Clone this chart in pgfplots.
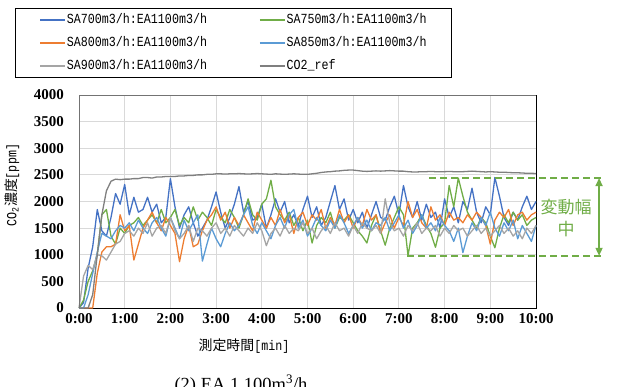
\documentclass[border=0pt]{standalone}
\usepackage{fontspec}
\usepackage{pgfplots}
\usepackage{pgfplotstable}
\pgfplotsset{compat=1.18}
\usetikzlibrary{arrows.meta}
\setmainfont{Liberation Serif}
\newfontfamily\jp{Noto Sans CJK JP}
\newfontfamily\mono[FakeStretch=0.84]{Liberation Mono}
\newcommand\legfont{\mono\fontsize{13.9bp}{16bp}\selectfont}
\definecolor{c700}{HTML}{4472C4}
\definecolor{c750}{HTML}{70AD47}
\definecolor{c800}{HTML}{ED7D31}
\definecolor{c850}{HTML}{5B9BD5}
\definecolor{c900}{HTML}{A5A5A5}
\definecolor{cref}{HTML}{7F7F7F}
\definecolor{gridgray}{HTML}{D9D9D9}
\definecolor{annot}{HTML}{70AD47}
\pgfplotstableread{
t a b c d e r
0.0 0 0 0 0 0 0
0.1 100 150 0 0 600 0
0.2 750 500 0 250 800 0
0.3 1150 700 0 650 720 250
0.4 1850 1000 650 1050 1000 1000
0.5 1450 1750 1050 1400 980 1750
0.6 1350 1850 1150 1350 900 2200
0.7 1700 1350 1150 1300 1050 2380
0.8 2150 1200 1200 1450 1200 2420
0.9 1950 1500 1750 1550 1250 2410
1.0 2320 1400 1450 1500 1400 2420
1.1 1750 1550 1550 1600 1450 2420
1.2 2080 1600 900 1450 1350 2430
1.3 1800 1700 1200 1650 1500 2430
1.4 1850 1550 1500 1500 1400 2450
1.5 2080 1650 1650 1400 1600 2450
1.6 1800 1750 1800 1600 1350 2440
1.7 1950 1600 1600 1700 1500 2460
1.8 1600 1850 1450 1500 1550 2460
1.9 1700 1600 1700 1350 1400 2470
2.0 2430 1700 1550 1700 1700 2470
2.1 1900 1850 1400 1500 1450 2470
2.2 1500 1550 870 1300 1300 2480
2.3 1750 1700 1300 1650 1400 2480
2.4 1900 1600 1550 1450 1550 2490
2.5 1600 1900 1150 1600 1250 2490
2.6 1350 1650 1200 1750 1500 2500
2.7 1500 1800 1450 880 1450 2500
2.8 1650 1700 1650 1200 1350 2510
2.9 1900 1550 1750 1500 1500 2510
3.0 2180 1850 1900 1300 1600 2520
3.1 1800 1700 1650 1150 1400 2520
3.2 1500 1600 1800 1400 1500 2515
3.3 1700 1850 1500 1600 1350 2520
3.4 1950 1700 1700 1450 1550 2520
3.5 2280 1500 1550 1550 1450 2525
3.6 1800 1750 1750 1750 1350 2520
3.7 2000 2050 1600 1900 1500 2515
3.8 1650 1750 1450 1550 1400 2520
3.9 1700 1650 1800 1400 1600 2525
4.0 1950 1950 1650 1600 1450 2520
4.1 1500 2050 1500 1450 1170 2515
4.2 1750 2400 1700 1300 1400 2510
4.3 2050 1900 1550 1550 1500 2520
4.4 1800 1750 1850 1700 1350 2515
4.5 2000 1650 1600 1500 1550 2510
4.6 1600 1800 1750 1750 1400 2515
4.7 1750 1550 1400 1850 1500 2520
4.8 1550 1700 1700 1500 1450 2515
4.9 1850 1450 1800 1650 1600 2510
5.0 2100 1650 1550 1350 1400 2510
5.1 1700 1220 1750 1500 1500 2520
5.2 1900 1550 1650 1700 1300 2530
5.3 1550 1700 1850 1550 1450 2545
5.4 1700 1600 1500 1450 1550 2555
5.5 2000 1800 1700 1650 1400 2560
5.6 2300 1500 1550 1500 1600 2570
5.7 1850 1700 1850 1750 1450 2575
5.8 2050 1650 1600 1600 1500 2585
5.9 1650 1750 1750 1400 1350 2590
6.0 1850 1600 1500 1550 1550 2590
6.1 1600 1450 1700 1700 1400 2580
6.2 1800 1350 1550 1500 1600 2570
6.3 1500 1220 1850 1650 1500 2565
6.4 1750 1550 1650 1450 1450 2570
6.5 2000 1750 1750 1600 1550 2575
6.6 1700 1450 1400 1550 1400 2570
6.7 1650 1180 1600 1700 2050 2575
6.8 1900 1500 1750 1450 1600 2580
6.9 2100 1700 1500 1600 1450 2575
7.0 1750 1900 1700 1750 1500 2570
7.1 2300 1750 1550 1500 1350 2570
7.2 1900 980 2000 1650 1550 2560
7.3 1700 1500 1700 1400 1450 2555
7.4 2000 1600 1850 1550 1600 2555
7.5 1650 1750 1600 1750 1400 2560
7.6 1950 1550 1500 1500 1500 2560
7.7 1700 1400 1900 1600 1450 2565
7.8 1800 1140 1650 1450 1550 2560
7.9 1500 1500 1750 1700 1350 2560
8.0 2050 1600 1550 1550 1500 2560
8.1 1700 2300 1800 1450 1400 2565
8.2 1900 1900 1650 1250 1550 2560
8.3 1600 2440 1700 1500 1450 2560
8.4 2000 2100 1600 1040 1500 2560
8.5 1850 1800 1750 1350 1350 2565
8.6 2250 1650 1650 1600 1450 2570
8.7 1800 1500 1800 1450 1550 2565
8.8 1600 1700 1700 1700 1400 2560
8.9 1900 1600 1550 1550 1500 2555
9.0 1750 1350 1200 1800 1350 2560
9.1 2450 1130 1650 1500 1450 2555
9.2 2100 1500 1800 1350 1550 2550
9.3 1700 1750 1700 1600 1400 2550
9.4 1550 1600 1850 1450 1500 2545
9.5 1800 1800 1550 1650 1350 2540
9.6 1650 1650 1750 1300 1450 2540
9.7 1900 1750 1800 1550 1300 2535
9.8 2100 1550 1650 1400 1500 2530
9.9 1850 1650 1750 1250 1400 2530
10.0 2000 1700 1800 1550 1550 2525
}\data
\begin{document}
\begin{tikzpicture}
\useasboundingbox (0bp,0bp) rectangle (621bp,387bp);
\begin{axis}[
  at={(79bp,79bp)}, anchor=south west,
  scale only axis, width=457bp, height=213bp,
  xmin=0, xmax=10, ymin=0, ymax=4000,
  xtick={0,1,...,10},
  xticklabels={0:00,1:00,2:00,3:00,4:00,5:00,6:00,7:00,8:00,9:00,10:00},
  ytick={0,500,...,4000},
  grid=major, major grid style={draw=gridgray, line width=0.9bp},
  major tick length=0pt,
  axis line style={draw=black, line width=1bp},
  tick label style={font=\fontsize{15bp}{17bp}\selectfont\bfseries},
  /pgf/number format/assume math mode=true,
  /pgf/number format/1000 sep={},
  yticklabel style={inner sep=0pt, xshift=-15bp},
  xticklabel style={inner sep=0pt, yshift=-5bp},
  xlabel={{\jp 測定時間}{\mono [min]}},
  ylabel={{\mono CO\textsubscript{2}}{\jp 濃度}{\mono [ppm]}},
  label style={font=\fontsize{13.9bp}{16bp}\selectfont},
  xlabel style={at={(rel axis cs:0.361,-0.177)}, anchor=center},
  ylabel style={at={(rel axis cs:-0.1466,0.577)}, anchor=center},
  clip=false,
  legend columns=2,
  legend cell align=left,
  legend image code/.code={\draw[#1, line width=1.5bp] (0bp,0bp) -- (25bp,0bp);},
  legend style={at={(rel axis cs:-0.1400,1.4085)}, anchor=north west,
    draw=black, line width=0.8bp, fill=white,
    inner xsep=24bp, inner ysep=4bp, font=\legfont, row sep=8bp,
    nodes={inner sep=1bp, text height=10bp, text depth=3bp},
    /tikz/every even column/.append style={column sep=51bp}},
]
\addplot[c700, line width=1.3bp, no markers, line join=round] table[x=t,y=a]{\data};
\addlegendentry{SA700m3/h:EA1100m3/h}
\addplot[c750, line width=1.3bp, no markers, line join=round] table[x=t,y=b]{\data};
\addlegendentry{SA750m3/h:EA1100m3/h}
\addplot[c800, line width=1.3bp, no markers, line join=round] table[x=t,y=c]{\data};
\addlegendentry{SA800m3/h:EA1100m3/h}
\addplot[c850, line width=1.3bp, no markers, line join=round] table[x=t,y=d]{\data};
\addlegendentry{SA850m3/h:EA1100m3/h}
\addplot[c900, line width=1.3bp, no markers, line join=round] table[x=t,y=e]{\data};
\addlegendentry{SA900m3/h:EA1100m3/h}
\addplot[cref, line width=1.3bp, no markers, line join=round] table[x=t,y=r]{\data};
\addlegendentry{CO2\_ref}
\draw[gray!90!black, line width=1bp] (rel axis cs:0,0) -- (rel axis cs:0,1) -- (rel axis cs:1,1);
\draw[annot, line width=2bp, dash pattern=on 7bp off 4bp] (axis cs:7.66,2450) -- (axis cs:11.51,2450);
\draw[annot, line width=2bp, dash pattern=on 7bp off 4bp] (axis cs:7.18,970) -- (axis cs:11.51,970);
\draw[annot, line width=1.5bp, {Triangle[length=8bp,width=7bp]}-{Triangle[length=8bp,width=7bp]}] (axis cs:11.38,2440) -- (axis cs:11.38,980);
\node[text=annot, font=\jp\fontsize{17bp}{20bp}\selectfont] at (axis cs:10.66,1897) {変動幅};
\node[text=annot, font=\jp\fontsize{17bp}{20bp}\selectfont] at (axis cs:10.66,1484) {中};
\end{axis}
\node[anchor=base, font=\fontsize{18.5bp}{21bp}\selectfont] at (241bp,-3.2bp) {(2) EA 1,100m\textsuperscript{3}/h};
\end{tikzpicture}
\end{document}
